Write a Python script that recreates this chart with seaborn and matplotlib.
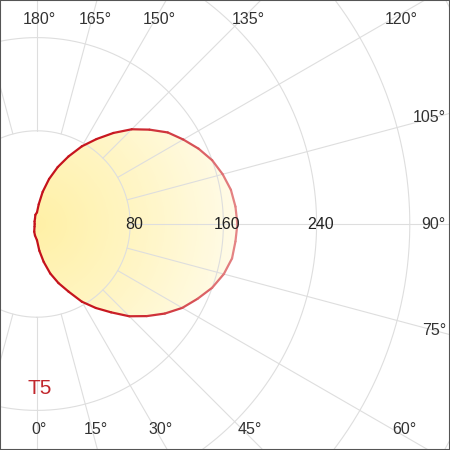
import numpy as np
import matplotlib
matplotlib.use('Agg')
import matplotlib.pyplot as plt
import matplotlib.transforms as mtransforms
import seaborn as sns
from matplotlib.collections import LineCollection
from matplotlib.patches import Rectangle

# Light distribution curve: gamma angle (deg) -> intensity
# 0..180 is the main half-plane, 190..350 is the small back side
angles = [0, 5, 10, 15, 20, 25, 30, 35, 40, 45, 50, 55, 60, 65, 70, 75, 80,
          85, 90, 95, 100, 105, 110, 115, 120, 125, 130, 135, 140, 145, 150,
          155, 160, 165, 170, 175, 180, 190, 200, 225, 270, 315, 340, 350]
intensity = [14, 23, 33, 44, 54, 64, 77, 88, 99, 112, 123, 134, 144, 152, 160,
             166, 170, 171, 172, 171, 169, 165, 160, 153, 145, 137, 126, 115,
             102, 89, 77, 64, 52, 40, 28, 17, 10, 8, 5, 3, 2, 3, 7, 10]

ring_values = [80, 160, 240, 320, 400]
ring_labels = ['80', '160', '240']
spoke_angles = list(range(0, 360, 15))
angle_labels = list(range(0, 181, 15))
curve_name = 'T5'

W, H = 450, 450
cx, cy = 37, 226          # pole position in pixels (from bottom-left)
px_per_unit = 1.165
r_max = 420

sns.set_theme(style='white')
plt.rcParams['font.family'] = ['Liberation Sans', 'DejaVu Sans']

fig = plt.figure(figsize=(4.5, 4.5), dpi=100)
R = r_max * px_per_unit
ax = fig.add_axes([(cx - R) / W, (cy - R) / H, 2 * R / W, 2 * R / H],
                  projection='polar')
ax.set_theta_zero_location('S')
ax.set_theta_direction(1)
ax.set_rlim(0, r_max)
ax.grid(False)
ax.set_xticks([])
ax.set_yticks([])
ax.spines['polar'].set_visible(False)

# grid: rings and spokes (spokes start at the first ring)
grid_col = '#dedede'
full = np.linspace(0, 2 * np.pi, 721)
for rv in ring_values:
    ax.plot(full, np.full_like(full, rv), color=grid_col, lw=0.8, zorder=2)
for a in spoke_angles:
    ax.plot([np.deg2rad(a)] * 2, [ring_values[0], r_max], color=grid_col,
            lw=0.8, zorder=2)

# gradient fill, clipped to the curve
th = np.deg2rad(angles)
poly = ax.fill(th, intensity, facecolor='none', edgecolor='none')[0]
tg = np.linspace(0, 2 * np.pi, 181)
rg = np.linspace(0, 190, 96)
T, Rg = np.meshgrid(tg, rg)
C = (Rg[:-1, :-1] + Rg[1:, 1:]) / 2
fill_cmap = sns.blend_palette(['#fff0a6', '#fff5c4', '#fffbe8'], as_cmap=True)
mesh = ax.pcolormesh(T, Rg, C, cmap=fill_cmap, vmin=0, vmax=175,
                     shading='flat', zorder=1)
mesh.set_clip_path(poly)

# outline with a dark-to-light red gradient
tc = np.append(th, th[0])
rc = np.append(intensity, intensity[0]).astype(float)
pts = np.column_stack([tc, rc])
segs = np.stack([pts[:-1], pts[1:]], axis=1)
reach = rc * np.sin(tc)
mid = (reach[:-1] + reach[1:]) / 2
edge_cmap = sns.blend_palette(['#c4121c', '#c8171f', '#d13a42', '#e58787'],
                              as_cmap=True)
lc = LineCollection(segs, cmap=edge_cmap, norm=plt.Normalize(0, 172),
                    linewidths=1.6, capstyle='round', joinstyle='round',
                    zorder=3)
lc.set_array(mid)
ax.add_collection(lc)

# ring labels along 90 deg
shift = mtransforms.ScaledTranslation(4 / 100, 0, fig.dpi_scale_trans)
for rv, lab in zip(ring_values, ring_labels):
    ax.text(np.pi / 2, rv, lab, ha='center', va='center', fontsize=11.5,
            color='#222222', zorder=5, transform=ax.transData + shift)

# angle labels where each spoke meets the frame
side_x = W - 17
for a in angle_labels:
    s, c = np.sin(np.deg2rad(a)), np.cos(np.deg2rad(a))
    t_side = (side_x - cx) / s if s > 1e-9 else np.inf
    if c > 1e-9:
        t_row, row_y = (cy - 15) / c, 20
    elif c < -1e-9:
        t_row, row_y = (H - 15 - cy) / -c, H - 20
    else:
        t_row, row_y = np.inf, 0
    if t_side < t_row:
        fig.text((W - 4) / W, (cy - t_side * c) / H, f'{a}°', ha='right',
                 va='center', fontsize=11.5, color='#333333')
    else:
        fig.text((cx + t_row * s + 2) / W, row_y / H, f'{a}°', ha='center',
                 va='center', fontsize=11.5, color='#333333')

fig.text(40 / W, 62 / H, curve_name, ha='center', va='center', fontsize=15,
         color='#c1272d')

fig.add_artist(Rectangle((0, 0), 1, 1, transform=fig.transFigure, fill=False,
                         edgecolor='#555555', lw=1.5))

fig.savefig('out.png', dpi=100)
